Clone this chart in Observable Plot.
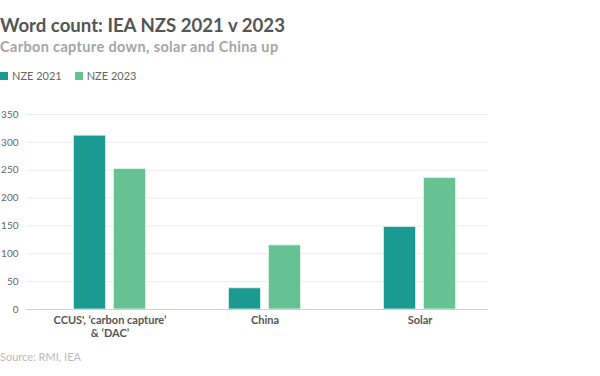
<!DOCTYPE html>
<html>
<head>
<meta charset="utf-8">
<script src="https://cdn.jsdelivr.net/npm/d3@7"></script>
<script src="https://cdn.jsdelivr.net/npm/@observablehq/plot@0.6"></script>
<style>
  html, body { margin: 0; padding: 0; background: #fff; }
  body { width: 600px; height: 376px; position: relative; overflow: hidden; font-family: Lato, "Open Sans", sans-serif; }
  #title { position: absolute; left: 0; top: 16px; font-size: 18.6px; font-weight: 700; color: #555; white-space: nowrap; line-height: 1; }
  #subtitle { position: absolute; left: 0; top: 40px; font-size: 14.5px; font-weight: 700; color: #a5a5a5; white-space: nowrap; line-height: 1; letter-spacing: 0.35px; }
  #legend { position: absolute; left: 0; top: 70px; font-size: 11px; color: #666; white-space: nowrap; line-height: 1; display: flex; align-items: center; }
  #legend .sw { display: inline-block; width: 8px; height: 8px; margin-right: 4px; }
  #legend .item { display: inline-flex; align-items: center; margin-right: 13px; }
  #chart { position: absolute; left: 0; top: 90px; }
  #source { position: absolute; left: 0; top: 351px; font-size: 11px; color: #bbb; white-space: nowrap; line-height: 1; }
</style>
</head>
<body>
<div id="title">Word count: IEA NZS 2021 v 2023</div>
<div id="subtitle">Carbon capture down, solar and China up</div>
<div id="legend"></div>
<div id="chart"></div>
<div id="source">Source: RMI, IEA</div>
<script>
const categories = ["CCUS', \u2018carbon capture\u2019\n& \u2018DAC\u2019", "China", "Solar"];
const series = ["NZE 2021", "NZE 2023"];
const values2021 = [312, 38, 148];
const values2023 = [252, 115, 236];
const yTicks = [0, 50, 100, 150, 200, 250, 300, 350];
const colors = ["#1b9a91", "#66c293"];

const legend = document.getElementById("legend");
series.forEach((s, i) => {
  const item = document.createElement("span");
  item.className = "item";
  item.innerHTML = `<span class="sw" style="background:${colors[i]}"></span>${s}`;
  legend.appendChild(item);
});

const data = [
  ...categories.map((c, i) => ({cat: c, series: series[0], value: values2021[i]})),
  ...categories.map((c, i) => ({cat: c, series: series[1], value: values2023[i]}))
];

const chart = Plot.plot({
  width: 600,
  height: 260,
  marginTop: 24,
  marginBottom: 41,
  marginLeft: 26,
  marginRight: 112,
  style: {fontFamily: "Lato, 'Open Sans', sans-serif", background: "#fff", overflow: "visible"},
  x: {domain: categories, range: [32, 497], padding: 0, axis: null},
  y: {domain: [0, 350], ticks: yTicks, axis: null},
  color: {domain: series, range: colors},
  marks: [
    Plot.ruleY(yTicks.filter(d => d > 0), {stroke: "#ececec", strokeWidth: 1}),
    Plot.barY(data.filter(d => d.series === series[0]), {
      x: "cat", y: "value", fill: "series", dx: -20, insetLeft: 61.5, insetRight: 61.5,
      stroke: "#d8f0ec", strokeWidth: 0.8
    }),
    Plot.barY(data.filter(d => d.series === series[1]), {
      x: "cat", y: "value", fill: "series", dx: 20, insetLeft: 61.5, insetRight: 61.5,
      stroke: "#e0f4e8", strokeWidth: 0.8
    }),
    Plot.ruleY([0], {stroke: "#d0d0d0", strokeWidth: 1.2}),
    Plot.axisY({ticks: yTicks, tickSize: 0, tickPadding: 8, anchor: "left", label: null, fontSize: 10, color: "#666", tickFormat: d => d}),
    Plot.text(categories, {x: d => d, frameAnchor: "bottom", dy: 6, lineAnchor: "top", text: d => d, fontSize: 11, fontWeight: 700, fill: "#555", lineHeight: 1.15, letterSpacing: "0.5px"})
  ]
});
document.getElementById("chart").appendChild(chart);
</script>
</body>
</html>
